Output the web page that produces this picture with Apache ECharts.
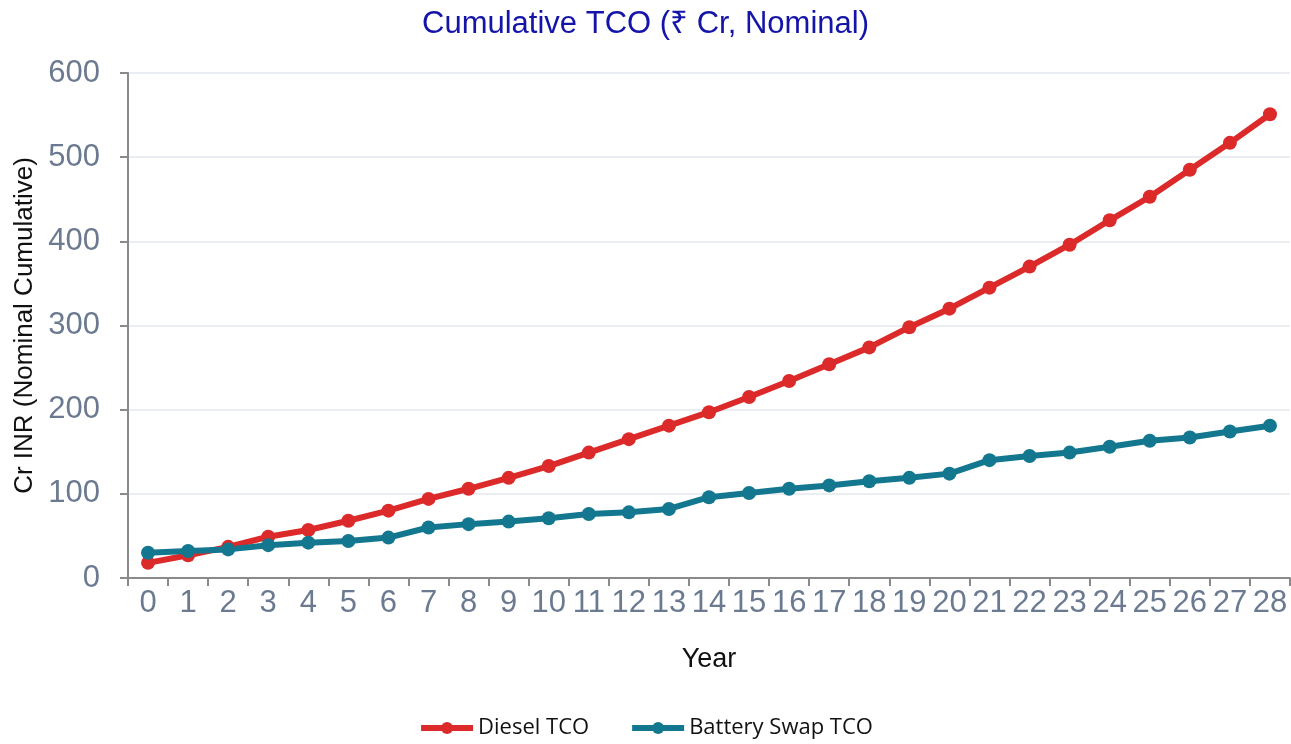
<!DOCTYPE html>
<html>
<head>
<meta charset="UTF-8">
<title>Cumulative TCO</title>
<script src="https://cdn.jsdelivr.net/npm/echarts@6/dist/echarts.min.js"></script>
<style>
  body { margin: 0; background: #fff; overflow: hidden; }
  #chart { width: 1291px; height: 744px; }
</style>
</head>
<body>
<div id="chart"></div>
<script>
// Years on the x axis
const years = Array.from({ length: 29 }, (_, i) => String(i))

// Cumulative TCO, Cr INR
const dieselTco = [18, 27, 37, 49, 57, 68, 80, 94, 106, 119, 133, 149, 165, 181, 197,
  215, 234, 254, 274, 298, 320, 345, 370, 396, 425, 453, 485, 517, 551]
const batteryTco = [30, 32, 34, 39, 42, 44, 48, 60, 64, 67, 71, 76, 78, 82, 96,
  101, 106, 110, 115, 119, 124, 140, 145, 149, 156, 163, 167, 174, 181]

const RED = '#dc2a2a'
const TEAL = '#13778f'

const chart = echarts.init(document.getElementById('chart'))

const lineSeries = (name, data, color) => ({
  name,
  type: 'line',
  data,
  symbol: 'circle',
  symbolSize: 14,
  lineStyle: { color, width: 6 },
  itemStyle: { color },
  animation: false
})

chart.setOption({
  title: {
    text: 'Cumulative TCO (₹ Cr, Nominal)',
    left: 'center',
    top: 4,
    textStyle: { color: '#1414a8', fontSize: 31, fontWeight: 'normal', fontFamily: 'Liberation Sans' }
  },
  legend: {
    bottom: 0,
    left: 'center',
    itemWidth: 52,
    itemHeight: 15,
    itemGap: 40,
    lineStyle: { width: 6 },
    textStyle: { color: '#111', fontSize: 22, fontFamily: 'Open Sans' },
    data: ['Diesel TCO', 'Battery Swap TCO']
  },
  grid: { left: 128, right: 1, top: 73, bottom: 166, outerBoundsMode: 'none' },
  xAxis: {
    type: 'category',
    data: years,
    boundaryGap: true,
    name: 'Year',
    nameLocation: 'middle',
    nameGap: 68,
    nameTextStyle: { color: '#111', fontSize: 27, fontFamily: 'Liberation Sans' },
    axisLine: { lineStyle: { color: '#8a8a8a', width: 2 } },
    axisTick: { show: true, length: 8, lineStyle: { color: '#8a8a8a', width: 2 } },
    axisLabel: { color: '#6b7a90', fontSize: 31, margin: 10, fontFamily: 'Liberation Sans', interval: 0 }
  },
  yAxis: {
    type: 'value',
    min: 0,
    max: 600,
    interval: 100,
    name: 'Cr INR (Nominal Cumulative)',
    nameLocation: 'middle',
    nameGap: 88,
    nameTextStyle: { color: '#111', fontSize: 26, fontFamily: 'Liberation Sans' },
    axisLine: { show: true, lineStyle: { color: '#8a8a8a', width: 2 } },
    axisTick: { show: true, length: 8, lineStyle: { color: '#8a8a8a', width: 2 } },
    axisLabel: { color: '#6b7a90', fontSize: 31, margin: 28, fontFamily: 'Liberation Sans' },
    splitLine: { lineStyle: { color: '#e3e8ef', width: 1.5 } }
  },
  series: [
    lineSeries('Diesel TCO', dieselTco, RED),
    lineSeries('Battery Swap TCO', batteryTco, TEAL)
  ]
})
</script>
</body>
</html>
